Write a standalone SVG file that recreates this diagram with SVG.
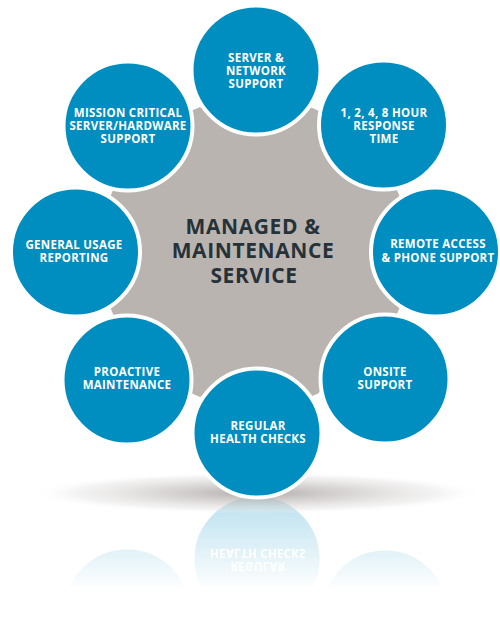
<svg xmlns="http://www.w3.org/2000/svg" xmlns:xlink="http://www.w3.org/1999/xlink" width="500" height="620" viewBox="0 0 500 620">
  <style>
    .c { fill: #008ec1; stroke: #ffffff; stroke-width: 4; }
    .t { font-family: "Open Sans", "Liberation Sans", sans-serif; font-weight: 700; font-size: 11.5px; fill: #ffffff; text-anchor: middle; letter-spacing: 0.3px; }
    .ct { font-family: "Open Sans", "Liberation Sans", sans-serif; font-weight: 700; font-size: 21px; fill: #263238; text-anchor: middle; letter-spacing: 0.6px; }
    .star { fill: #bab4b1; }
  </style>
  <defs>
    <radialGradient id="shadowGrad" cx="0.5" cy="0.5" r="0.5">
      <stop offset="0" stop-color="#a29d9b" stop-opacity="0.85"/>
      <stop offset="0.45" stop-color="#c4c0be" stop-opacity="0.6"/>
      <stop offset="0.8" stop-color="#e3e1e0" stop-opacity="0.4"/>
      <stop offset="1" stop-color="#ffffff" stop-opacity="0"/>
    </radialGradient>
    <linearGradient id="fadeGrad" gradientUnits="userSpaceOnUse" x1="0" y1="496" x2="0" y2="590">
      <stop offset="0" stop-color="#ffffff" stop-opacity="0.28"/>
      <stop offset="1" stop-color="#ffffff" stop-opacity="0"/>
    </linearGradient>
    <mask id="fade" maskUnits="userSpaceOnUse" x="0" y="496" width="500" height="124">
      <rect x="0" y="496" width="500" height="124" fill="url(#fadeGrad)"/>
    </mask>
  </defs>

  <!-- reflection -->
  <g id="reflection" mask="url(#fade)">
    <g transform="translate(0 992) scale(1 -1)">
      <use href="#n-regular"/>
      <use href="#n-onsite"/>
      <use href="#n-proactive"/>
    </g>
  </g>

  <!-- floor shadow -->
  <ellipse id="floor-shadow" cx="257" cy="493" rx="226" ry="21" fill="url(#shadowGrad)"/>

  <!-- central hub -->
  <g id="hub">
    <polygon class="star" points="399.7,307.6 396.6,315.0 354,351 318.0,393.6 310.6,396.7 255,392 199.4,396.7 192.0,393.6 156,351 113.4,315.0 110.3,307.6 115,252 110.3,196.4 113.4,189.0 156,153 192.0,110.4 199.4,107.3 255,112 310.6,107.3 318.0,110.4 354,153 396.6,189.0 399.7,196.4 395,252"/>
    <text class="ct" x="253" y="234">MANAGED &amp;</text>
    <text class="ct" x="253" y="258">MAINTENANCE</text>
    <text class="ct" x="254" y="283">SERVICE</text>
  </g>

  <g id="connectors"></g>

  <g id="n-server">
    <circle class="c" cx="256" cy="70" r="64.5"/>
    <text class="t" x="256" y="62">SERVER &amp;</text>
    <text class="t" x="256" y="75">NETWORK</text>
    <text class="t" x="256" y="88">SUPPORT</text>
  </g>
  <g id="n-response">
    <circle class="c" cx="383.5" cy="125" r="64.5"/>
    <text class="t" x="384" y="117">1, 2, 4, 8 HOUR</text>
    <text class="t" x="384" y="130">RESPONSE</text>
    <text class="t" x="384" y="143">TIME</text>
  </g>
  <g id="n-remote">
    <circle class="c" cx="435.5" cy="252" r="64.5"/>
    <text class="t" x="438" y="248">REMOTE ACCESS</text>
    <text class="t" x="438" y="262">&amp; PHONE SUPPORT</text>
  </g>
  <g id="n-onsite">
    <circle class="c" cx="385" cy="379" r="64.5"/>
    <text class="t" x="385" y="376">ONSITE</text>
    <text class="t" x="385" y="389">SUPPORT</text>
  </g>
  <g id="n-regular">
    <circle class="c" cx="257" cy="433" r="64.5"/>
    <text class="t" x="258" y="430">REGULAR</text>
    <text class="t" x="258" y="443">HEALTH CHECKS</text>
  </g>
  <g id="n-proactive">
    <circle class="c" cx="127" cy="380" r="64.5"/>
    <text class="t" x="127" y="376">PROACTIVE</text>
    <text class="t" x="127" y="389">MAINTENANCE</text>
  </g>
  <g id="n-general">
    <circle class="c" cx="75.5" cy="252" r="64.5"/>
    <text class="t" x="74" y="249">GENERAL USAGE</text>
    <text class="t" x="74" y="262">REPORTING</text>
  </g>
  <g id="n-mission">
    <circle class="c" cx="128" cy="126" r="64.5"/>
    <text class="t" x="128" y="117">MISSION CRITICAL</text>
    <text class="t" x="128" y="130">SERVER/HARDWARE</text>
    <text class="t" x="128" y="143">SUPPORT</text>
  </g>
</svg>
